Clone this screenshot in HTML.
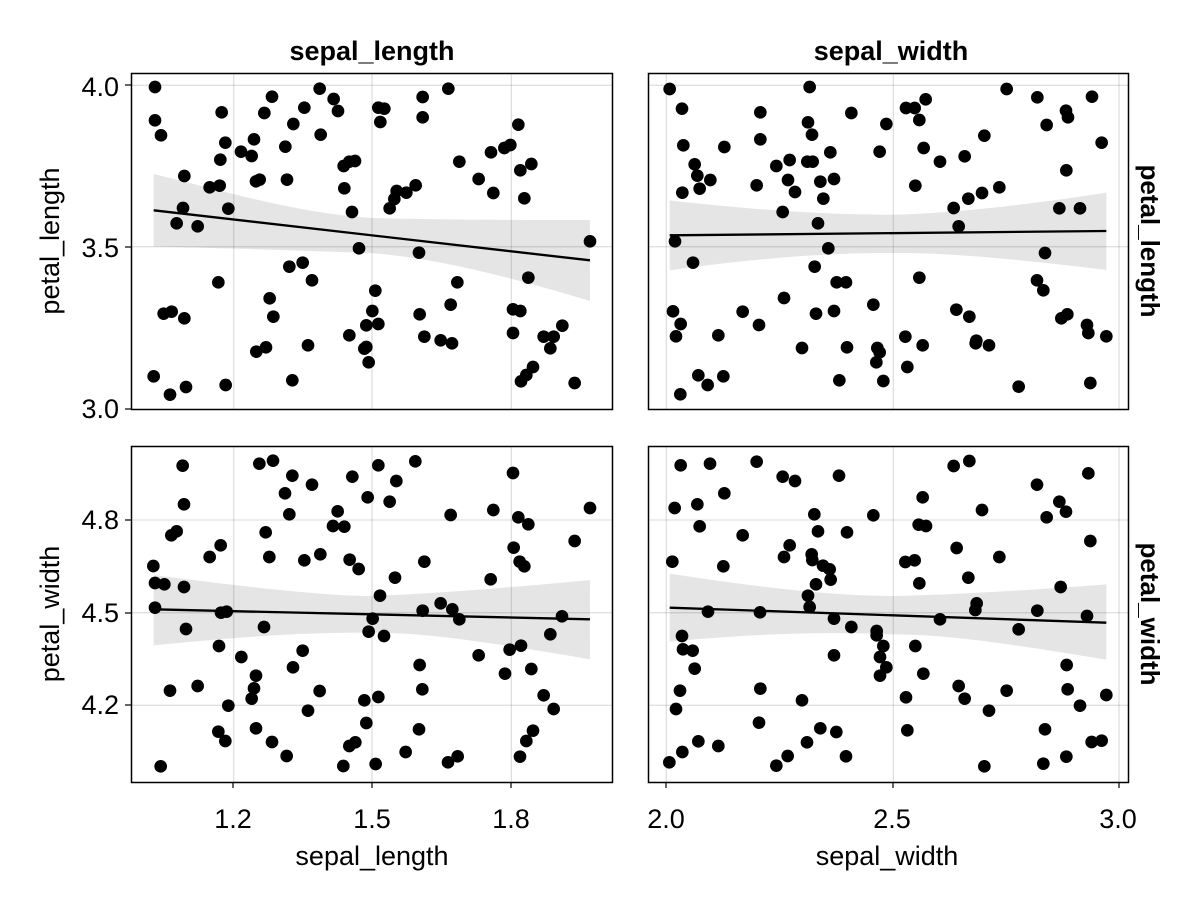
<!DOCTYPE html>
<html><head><meta charset="utf-8"><style>html,body{margin:0;padding:0;background:#fff}svg{display:block}text{font-family:"Liberation Sans",sans-serif;fill:#000}</style></head><body>
<svg width="1200" height="900" viewBox="0 0 1200 900" xmlns="http://www.w3.org/2000/svg">
<rect width="1200" height="900" fill="#fff"/>
<g font-size="27">
<text x="372" y="60" text-anchor="middle" font-weight="bold" font-size="27">sepal_length</text>
<text x="891" y="60" text-anchor="middle" font-weight="bold" font-size="27">sepal_width</text>
<text transform="translate(1141,241) rotate(90)" text-anchor="middle" font-weight="bold" font-size="26">petal_length</text>
<text transform="translate(1141,614) rotate(90)" text-anchor="middle" font-weight="bold" font-size="26">petal_width</text>
<text transform="translate(59,241) rotate(-90)" text-anchor="middle">petal_length</text>
<text transform="translate(59,614) rotate(-90)" text-anchor="middle">petal_width</text>
<text x="372" y="865" text-anchor="middle">sepal_length</text>
<text x="887" y="865" text-anchor="middle">sepal_width</text>
<g text-anchor="end">
<text x="119" y="96">4.0</text><text x="119" y="257">3.5</text><text x="119" y="418">3.0</text>
<text x="119" y="529">4.8</text><text x="119" y="622">4.5</text><text x="119" y="714">4.2</text>
</g>
<g text-anchor="middle">
<text x="233" y="828">1.2</text><text x="372" y="828">1.5</text><text x="511" y="828">1.8</text>
<text x="666" y="828">2.0</text><text x="892" y="828">2.5</text><text x="1118" y="828">3.0</text>
</g>
</g>
<g stroke="#000" stroke-width="1.2">
<line x1="125" y1="85" x2="131" y2="85"/><line x1="125" y1="247" x2="131" y2="247"/><line x1="125" y1="409" x2="131" y2="409"/>
<line x1="125" y1="520" x2="131" y2="520"/><line x1="125" y1="613" x2="131" y2="613"/><line x1="125" y1="705" x2="131" y2="705"/>
<line x1="233" y1="782" x2="233" y2="788"/><line x1="372" y1="782" x2="372" y2="788"/><line x1="511" y1="782" x2="511" y2="788"/>
<line x1="666" y1="782" x2="666" y2="788"/><line x1="893" y1="782" x2="893" y2="788"/><line x1="1119" y1="782" x2="1119" y2="788"/>
</g>

<!-- Panel 1 -->
<g transform="translate(131,73) scale(0.33333)">
<g stroke="#000" stroke-opacity="0.12" stroke-width="4"><line x1="308" y1="0" x2="308" y2="1011"/><line x1="723" y1="0" x2="723" y2="1011"/><line x1="1141" y1="0" x2="1141" y2="1011"/><line x1="0" y1="37" x2="1446" y2="37"/><line x1="0" y1="521" x2="1446" y2="521"/></g>
<path d="M68,303 C300,360 500,420 720,435 C1000,442 1377,441 1377,441 L1377,684 C1100,600 900,555 720,540 C400,528 68,521 68,521Z" fill="#000" fill-opacity="0.1"/>
<line x1="68" y1="412" x2="1377" y2="562" stroke="#000" stroke-width="7"/>
<g fill="#000">
<circle cx="72" cy="42" r="19"/><circle cx="72" cy="142" r="19"/><circle cx="90" cy="187" r="19"/><circle cx="272" cy="118" r="19"/><circle cx="283" cy="209" r="19"/><circle cx="268" cy="260" r="19"/><circle cx="160" cy="309" r="19"/><circle cx="236" cy="343" r="19"/><circle cx="266" cy="338" r="19"/><circle cx="156" cy="405" r="19"/><circle cx="137" cy="451" r="19"/><circle cx="200" cy="460" r="19"/><circle cx="292" cy="407" r="19"/><circle cx="330" cy="236" r="19"/><circle cx="362" cy="249" r="19"/><circle cx="369" cy="199" r="19"/><circle cx="400" cy="120" r="19"/><circle cx="423" cy="71" r="19"/><circle cx="487" cy="153" r="19"/><circle cx="463" cy="221" r="19"/><circle cx="520" cy="104" r="19"/><circle cx="566" cy="47" r="19"/><circle cx="608" cy="78" r="19"/><circle cx="621" cy="114" r="19"/><circle cx="569" cy="185" r="19"/><circle cx="375" cy="325" r="19"/><circle cx="386" cy="320" r="19"/><circle cx="468" cy="320" r="19"/><circle cx="638" cy="279" r="19"/><circle cx="655" cy="266" r="19"/><circle cx="672" cy="264" r="19"/><circle cx="640" cy="346" r="19"/><circle cx="663" cy="417" r="19"/><circle cx="742" cy="104" r="19"/><circle cx="760" cy="107" r="19"/><circle cx="748" cy="147" r="19"/><circle cx="875" cy="72" r="19"/><circle cx="875" cy="133" r="19"/><circle cx="952" cy="47" r="19"/><circle cx="797" cy="354" r="19"/><circle cx="826" cy="359" r="19"/><circle cx="854" cy="337" r="19"/><circle cx="790" cy="378" r="19"/><circle cx="776" cy="406" r="19"/><circle cx="985" cy="266" r="19"/><circle cx="1080" cy="238" r="19"/><circle cx="1120" cy="225" r="19"/><circle cx="1138" cy="216" r="19"/><circle cx="1162" cy="155" r="19"/><circle cx="1168" cy="292" r="19"/><circle cx="1201" cy="273" r="19"/><circle cx="1043" cy="318" r="19"/><circle cx="1087" cy="360" r="19"/><circle cx="1180" cy="376" r="19"/><circle cx="1377" cy="505" r="19"/><circle cx="684" cy="526" r="19"/><circle cx="864" cy="539" r="19"/><circle cx="1192" cy="614" r="19"/><circle cx="262" cy="628" r="19"/><circle cx="475" cy="581" r="19"/><circle cx="515" cy="569" r="19"/><circle cx="543" cy="622" r="19"/><circle cx="979" cy="628" r="19"/><circle cx="959" cy="695" r="19"/><circle cx="733" cy="653" r="19"/><circle cx="416" cy="676" r="19"/><circle cx="427" cy="731" r="19"/><circle cx="98" cy="722" r="19"/><circle cx="122" cy="716" r="19"/><circle cx="160" cy="736" r="19"/><circle cx="724" cy="714" r="19"/><circle cx="706" cy="757" r="19"/><circle cx="742" cy="753" r="19"/><circle cx="866" cy="724" r="19"/><circle cx="655" cy="787" r="19"/><circle cx="880" cy="791" r="19"/><circle cx="929" cy="802" r="19"/><circle cx="963" cy="811" r="19"/><circle cx="1146" cy="709" r="19"/><circle cx="1168" cy="714" r="19"/><circle cx="1146" cy="780" r="19"/><circle cx="1238" cy="791" r="19"/><circle cx="1268" cy="791" r="19"/><circle cx="1294" cy="758" r="19"/><circle cx="1258" cy="826" r="19"/><circle cx="376" cy="836" r="19"/><circle cx="405" cy="823" r="19"/><circle cx="531" cy="817" r="19"/><circle cx="706" cy="822" r="19"/><circle cx="700" cy="827" r="19"/><circle cx="713" cy="868" r="19"/><circle cx="68" cy="910" r="19"/><circle cx="117" cy="965" r="19"/><circle cx="165" cy="942" r="19"/><circle cx="284" cy="936" r="19"/><circle cx="484" cy="922" r="19"/><circle cx="1206" cy="882" r="19"/><circle cx="1186" cy="906" r="19"/><circle cx="1170" cy="925" r="19"/><circle cx="1331" cy="930" r="19"/>
</g>
<rect x="1.5" y="1.5" width="1443" height="1008" fill="none" stroke="#000" stroke-width="4.5"/>
</g>

<!-- Panel 2 -->
<g transform="translate(648,73) scale(0.33333)">
<g stroke="#000" stroke-opacity="0.12" stroke-width="4"><line x1="55" y1="0" x2="55" y2="1011"/><line x1="736" y1="0" x2="736" y2="1011"/><line x1="1413" y1="0" x2="1413" y2="1011"/><line x1="0" y1="37" x2="1443" y2="37"/><line x1="0" y1="521" x2="1443" y2="521"/></g>
<path d="M65,382 C400,420 600,425 735,425 C1000,420 1375,359 1375,359 L1375,591 C1000,545 850,540 735,540 C600,540 400,545 65,592Z" fill="#000" fill-opacity="0.1"/>
<line x1="65" y1="487" x2="1375" y2="474" stroke="#000" stroke-width="7"/>
<g fill="#000">
<circle cx="65" cy="48" r="19"/><circle cx="485" cy="42" r="19"/><circle cx="1076" cy="48" r="19"/><circle cx="1168" cy="73" r="19"/><circle cx="1332" cy="71" r="19"/><circle cx="102" cy="107" r="19"/><circle cx="337" cy="118" r="19"/><circle cx="480" cy="148" r="19"/><circle cx="610" cy="120" r="19"/><circle cx="492" cy="185" r="19"/><circle cx="715" cy="153" r="19"/><circle cx="774" cy="105" r="19"/><circle cx="800" cy="105" r="19"/><circle cx="833" cy="79" r="19"/><circle cx="814" cy="141" r="19"/><circle cx="1254" cy="113" r="19"/><circle cx="1260" cy="133" r="19"/><circle cx="1196" cy="156" r="19"/><circle cx="106" cy="217" r="19"/><circle cx="229" cy="222" r="19"/><circle cx="337" cy="199" r="19"/><circle cx="547" cy="238" r="19"/><circle cx="695" cy="236" r="19"/><circle cx="827" cy="225" r="19"/><circle cx="1009" cy="188" r="19"/><circle cx="1361" cy="209" r="19"/><circle cx="140" cy="274" r="19"/><circle cx="148" cy="308" r="19"/><circle cx="187" cy="321" r="19"/><circle cx="155" cy="347" r="19"/><circle cx="103" cy="359" r="19"/><circle cx="326" cy="337" r="19"/><circle cx="385" cy="279" r="19"/><circle cx="425" cy="261" r="19"/><circle cx="478" cy="266" r="19"/><circle cx="494" cy="266" r="19"/><circle cx="420" cy="321" r="19"/><circle cx="441" cy="357" r="19"/><circle cx="517" cy="326" r="19"/><circle cx="558" cy="318" r="19"/><circle cx="526" cy="377" r="19"/><circle cx="876" cy="266" r="19"/><circle cx="950" cy="250" r="19"/><circle cx="802" cy="338" r="19"/><circle cx="1255" cy="292" r="19"/><circle cx="1002" cy="360" r="19"/><circle cx="1054" cy="343" r="19"/><circle cx="961" cy="377" r="19"/><circle cx="917" cy="405" r="19"/><circle cx="1234" cy="406" r="19"/><circle cx="1296" cy="406" r="19"/><circle cx="404" cy="417" r="19"/><circle cx="510" cy="451" r="19"/><circle cx="932" cy="460" r="19"/><circle cx="81" cy="505" r="19"/><circle cx="541" cy="526" r="19"/><circle cx="1191" cy="540" r="19"/><circle cx="135" cy="569" r="19"/><circle cx="500" cy="581" r="19"/><circle cx="566" cy="628" r="19"/><circle cx="594" cy="628" r="19"/><circle cx="814" cy="614" r="19"/><circle cx="1167" cy="622" r="19"/><circle cx="1186" cy="652" r="19"/><circle cx="408" cy="675" r="19"/><circle cx="676" cy="695" r="19"/><circle cx="75" cy="715" r="19"/><circle cx="98" cy="753" r="19"/><circle cx="84" cy="790" r="19"/><circle cx="211" cy="787" r="19"/><circle cx="284" cy="716" r="19"/><circle cx="333" cy="756" r="19"/><circle cx="504" cy="722" r="19"/><circle cx="558" cy="714" r="19"/><circle cx="925" cy="710" r="19"/><circle cx="964" cy="731" r="19"/><circle cx="1240" cy="736" r="19"/><circle cx="1258" cy="724" r="19"/><circle cx="1317" cy="756" r="19"/><circle cx="1321" cy="780" r="19"/><circle cx="1375" cy="790" r="19"/><circle cx="772" cy="791" r="19"/><circle cx="824" cy="817" r="19"/><circle cx="985" cy="803" r="19"/><circle cx="983" cy="811" r="19"/><circle cx="1023" cy="817" r="19"/><circle cx="462" cy="825" r="19"/><circle cx="597" cy="823" r="19"/><circle cx="688" cy="825" r="19"/><circle cx="695" cy="838" r="19"/><circle cx="685" cy="868" r="19"/><circle cx="778" cy="882" r="19"/><circle cx="151" cy="907" r="19"/><circle cx="179" cy="936" r="19"/><circle cx="226" cy="910" r="19"/><circle cx="97" cy="964" r="19"/><circle cx="574" cy="922" r="19"/><circle cx="706" cy="924" r="19"/><circle cx="1112" cy="941" r="19"/><circle cx="1327" cy="930" r="19"/>
</g>
<rect x="1.5" y="1.5" width="1440" height="1008" fill="none" stroke="#000" stroke-width="4.5"/>
</g>

<!-- Panel 3 -->
<g transform="translate(131,446) scale(0.33333)">
<g stroke="#000" stroke-opacity="0.12" stroke-width="4"><line x1="308" y1="0" x2="308" y2="1011"/><line x1="723" y1="0" x2="723" y2="1011"/><line x1="1141" y1="0" x2="1141" y2="1011"/><line x1="0" y1="222" x2="1446" y2="222"/><line x1="0" y1="500" x2="1446" y2="500"/><line x1="0" y1="778" x2="1446" y2="778"/></g>
<path d="M68,387 C400,430 600,450 725,450 C1000,440 1377,402 1377,402 L1377,640 C1000,575 850,560 725,560 C550,560 400,565 68,598Z" fill="#000" fill-opacity="0.1"/>
<line x1="68" y1="490" x2="1377" y2="520" stroke="#000" stroke-width="7"/>
<g fill="#000">
<circle cx="155" cy="59" r="19"/><circle cx="385" cy="53" r="19"/><circle cx="426" cy="44" r="19"/><circle cx="484" cy="89" r="19"/><circle cx="543" cy="116" r="19"/><circle cx="664" cy="92" r="19"/><circle cx="742" cy="58" r="19"/><circle cx="853" cy="46" r="19"/><circle cx="796" cy="105" r="19"/><circle cx="710" cy="154" r="19"/><circle cx="776" cy="167" r="19"/><circle cx="462" cy="142" r="19"/><circle cx="475" cy="205" r="19"/><circle cx="620" cy="196" r="19"/><circle cx="606" cy="240" r="19"/><circle cx="640" cy="242" r="19"/><circle cx="1146" cy="81" r="19"/><circle cx="1087" cy="192" r="19"/><circle cx="959" cy="207" r="19"/><circle cx="1162" cy="214" r="19"/><circle cx="1192" cy="235" r="19"/><circle cx="1377" cy="186" r="19"/><circle cx="159" cy="175" r="19"/><circle cx="121" cy="268" r="19"/><circle cx="137" cy="256" r="19"/><circle cx="269" cy="298" r="19"/><circle cx="236" cy="333" r="19"/><circle cx="404" cy="259" r="19"/><circle cx="415" cy="333" r="19"/><circle cx="520" cy="343" r="19"/><circle cx="568" cy="325" r="19"/><circle cx="656" cy="341" r="19"/><circle cx="683" cy="369" r="19"/><circle cx="67" cy="360" r="19"/><circle cx="72" cy="411" r="19"/><circle cx="100" cy="415" r="19"/><circle cx="159" cy="423" r="19"/><circle cx="1331" cy="285" r="19"/><circle cx="1148" cy="305" r="19"/><circle cx="1166" cy="347" r="19"/><circle cx="1180" cy="361" r="19"/><circle cx="880" cy="347" r="19"/><circle cx="792" cy="395" r="19"/><circle cx="1079" cy="400" r="19"/><circle cx="747" cy="449" r="19"/><circle cx="929" cy="472" r="19"/><circle cx="964" cy="490" r="19"/><circle cx="875" cy="494" r="19"/><circle cx="985" cy="520" r="19"/><circle cx="1293" cy="511" r="19"/><circle cx="72" cy="485" r="19"/><circle cx="270" cy="500" r="19"/><circle cx="287" cy="497" r="19"/><circle cx="165" cy="549" r="19"/><circle cx="399" cy="543" r="19"/><circle cx="725" cy="518" r="19"/><circle cx="713" cy="557" r="19"/><circle cx="759" cy="570" r="19"/><circle cx="1258" cy="565" r="19"/><circle cx="264" cy="600" r="19"/><circle cx="331" cy="633" r="19"/><circle cx="515" cy="614" r="19"/><circle cx="486" cy="664" r="19"/><circle cx="1043" cy="628" r="19"/><circle cx="1136" cy="611" r="19"/><circle cx="1170" cy="599" r="19"/><circle cx="1122" cy="683" r="19"/><circle cx="1201" cy="669" r="19"/><circle cx="866" cy="657" r="19"/><circle cx="375" cy="689" r="19"/><circle cx="369" cy="727" r="19"/><circle cx="362" cy="758" r="19"/><circle cx="117" cy="734" r="19"/><circle cx="200" cy="720" r="19"/><circle cx="566" cy="735" r="19"/><circle cx="874" cy="730" r="19"/><circle cx="742" cy="753" r="19"/><circle cx="700" cy="763" r="19"/><circle cx="1238" cy="748" r="19"/><circle cx="1268" cy="789" r="19"/><circle cx="292" cy="779" r="19"/><circle cx="531" cy="794" r="19"/><circle cx="706" cy="831" r="19"/><circle cx="262" cy="857" r="19"/><circle cx="283" cy="885" r="19"/><circle cx="375" cy="847" r="19"/><circle cx="423" cy="888" r="19"/><circle cx="864" cy="850" r="19"/><circle cx="1206" cy="854" r="19"/><circle cx="1186" cy="885" r="19"/><circle cx="655" cy="900" r="19"/><circle cx="673" cy="889" r="19"/><circle cx="467" cy="930" r="19"/><circle cx="824" cy="918" r="19"/><circle cx="951" cy="949" r="19"/><circle cx="980" cy="931" r="19"/><circle cx="1167" cy="932" r="19"/><circle cx="89" cy="961" r="19"/><circle cx="637" cy="960" r="19"/><circle cx="734" cy="954" r="19"/>
</g>
<rect x="1.5" y="1.5" width="1443" height="1008" fill="none" stroke="#000" stroke-width="4.5"/>
</g>

<!-- Panel 4 -->
<g transform="translate(648,446) scale(0.33333)">
<g stroke="#000" stroke-opacity="0.12" stroke-width="4"><line x1="55" y1="0" x2="55" y2="1011"/><line x1="736" y1="0" x2="736" y2="1011"/><line x1="1413" y1="0" x2="1413" y2="1011"/><line x1="0" y1="222" x2="1443" y2="222"/><line x1="0" y1="500" x2="1443" y2="500"/><line x1="0" y1="778" x2="1443" y2="778"/></g>
<path d="M65,383 C400,435 600,450 735,450 C1000,445 1375,415 1375,415 L1375,641 C1000,578 850,565 735,565 C600,560 400,555 65,587Z" fill="#000" fill-opacity="0.1"/>
<line x1="65" y1="485" x2="1375" y2="530" stroke="#000" stroke-width="7"/>
<g fill="#000">
<circle cx="98" cy="58" r="19"/><circle cx="186" cy="53" r="19"/><circle cx="326" cy="47" r="19"/><circle cx="404" cy="92" r="19"/><circle cx="441" cy="105" r="19"/><circle cx="573" cy="89" r="19"/><circle cx="917" cy="60" r="19"/><circle cx="964" cy="45" r="19"/><circle cx="1321" cy="82" r="19"/><circle cx="1167" cy="116" r="19"/><circle cx="229" cy="142" r="19"/><circle cx="148" cy="175" r="19"/><circle cx="80" cy="186" r="19"/><circle cx="499" cy="205" r="19"/><circle cx="676" cy="208" r="19"/><circle cx="824" cy="154" r="19"/><circle cx="1002" cy="192" r="19"/><circle cx="1234" cy="167" r="19"/><circle cx="1254" cy="197" r="19"/><circle cx="1196" cy="214" r="19"/><circle cx="155" cy="241" r="19"/><circle cx="284" cy="268" r="19"/><circle cx="510" cy="256" r="19"/><circle cx="597" cy="259" r="19"/><circle cx="812" cy="236" r="19"/><circle cx="834" cy="240" r="19"/><circle cx="1327" cy="285" r="19"/><circle cx="926" cy="306" r="19"/><circle cx="1054" cy="333" r="19"/><circle cx="425" cy="298" r="19"/><circle cx="408" cy="333" r="19"/><circle cx="491" cy="325" r="19"/><circle cx="493" cy="342" r="19"/><circle cx="525" cy="359" r="19"/><circle cx="545" cy="370" r="19"/><circle cx="548" cy="401" r="19"/><circle cx="772" cy="348" r="19"/><circle cx="800" cy="343" r="19"/><circle cx="73" cy="347" r="19"/><circle cx="226" cy="361" r="19"/><circle cx="504" cy="415" r="19"/><circle cx="814" cy="412" r="19"/><circle cx="961" cy="395" r="19"/><circle cx="1238" cy="423" r="19"/><circle cx="480" cy="449" r="19"/><circle cx="485" cy="483" r="19"/><circle cx="180" cy="497" r="19"/><circle cx="336" cy="499" r="19"/><circle cx="558" cy="518" r="19"/><circle cx="610" cy="543" r="19"/><circle cx="686" cy="555" r="19"/><circle cx="686" cy="568" r="19"/><circle cx="876" cy="520" r="19"/><circle cx="986" cy="472" r="19"/><circle cx="982" cy="492" r="19"/><circle cx="1168" cy="494" r="19"/><circle cx="1112" cy="550" r="19"/><circle cx="1317" cy="510" r="19"/><circle cx="102" cy="570" r="19"/><circle cx="105" cy="610" r="19"/><circle cx="134" cy="614" r="19"/><circle cx="140" cy="668" r="19"/><circle cx="558" cy="628" r="19"/><circle cx="706" cy="600" r="19"/><circle cx="696" cy="633" r="19"/><circle cx="715" cy="664" r="19"/><circle cx="696" cy="689" r="19"/><circle cx="802" cy="600" r="19"/><circle cx="826" cy="683" r="19"/><circle cx="1256" cy="657" r="19"/><circle cx="96" cy="734" r="19"/><circle cx="84" cy="789" r="19"/><circle cx="337" cy="728" r="19"/><circle cx="462" cy="763" r="19"/><circle cx="774" cy="754" r="19"/><circle cx="932" cy="720" r="19"/><circle cx="950" cy="758" r="19"/><circle cx="1076" cy="734" r="19"/><circle cx="1259" cy="730" r="19"/><circle cx="1296" cy="779" r="19"/><circle cx="1375" cy="747" r="19"/><circle cx="1023" cy="794" r="19"/><circle cx="333" cy="830" r="19"/><circle cx="517" cy="847" r="19"/><circle cx="565" cy="858" r="19"/><circle cx="778" cy="853" r="19"/><circle cx="1191" cy="850" r="19"/><circle cx="151" cy="886" r="19"/><circle cx="103" cy="918" r="19"/><circle cx="64" cy="949" r="19"/><circle cx="211" cy="900" r="19"/><circle cx="477" cy="889" r="19"/><circle cx="419" cy="930" r="19"/><circle cx="385" cy="959" r="19"/><circle cx="594" cy="931" r="19"/><circle cx="1009" cy="961" r="19"/><circle cx="1186" cy="953" r="19"/><circle cx="1255" cy="932" r="19"/><circle cx="1331" cy="888" r="19"/><circle cx="1361" cy="884" r="19"/>
</g>
<rect x="1.5" y="1.5" width="1440" height="1008" fill="none" stroke="#000" stroke-width="4.5"/>
</g>
</svg>
</body></html>
